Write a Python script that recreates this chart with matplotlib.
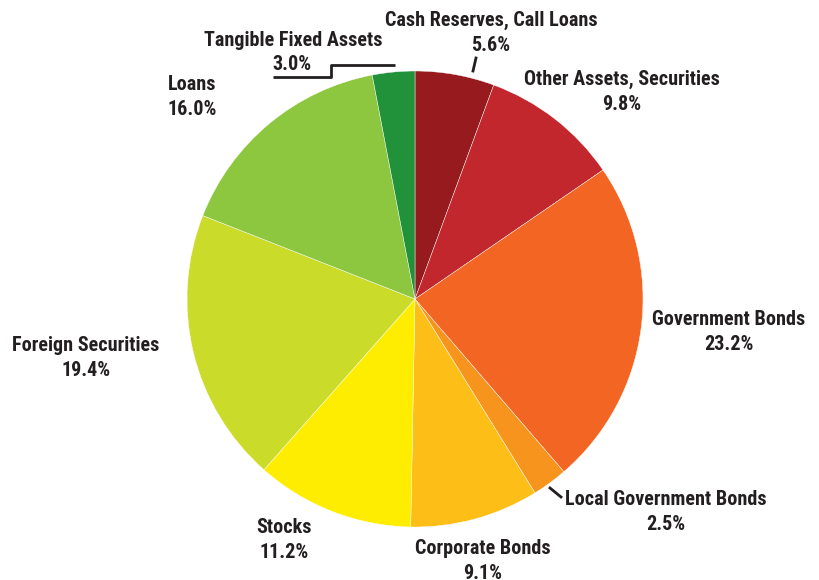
import matplotlib.pyplot as plt

# asset mix, clockwise from 12 o'clock
labels = ['Cash Reserves, Call Loans', 'Other Assets, Securities', 'Government Bonds',
          'Local Government Bonds', 'Corporate Bonds', 'Stocks', 'Foreign Securities',
          'Loans', 'Tangible Fixed Assets']
shares = [5.6, 9.8, 23.2, 2.5, 9.1, 11.2, 19.4, 16.0, 3.0]
colors = ['#961a1e', '#c1272d', '#f26522', '#f7941d', '#fdbe17', '#ffed00',
          '#cbdb2a', '#8dc63f', '#22923a']

family = ['Roboto Condensed', 'Archivo Narrow', 'Asap Condensed', 'DejaVu Sans']

W, H = 820, 580
fig = plt.figure(figsize=(W / 100, H / 100), dpi=100)
ax = fig.add_axes([0, 0, 1, 1])

cx, cy, r = 415, H - 299, 228
ax.pie(shares, colors=colors, startangle=90, counterclock=False,
       center=(cx, cy), radius=r, frame=True,
       wedgeprops={'linewidth': 0.3, 'edgecolor': 'white'})
ax.set_xlim(0, W)
ax.set_ylim(0, H)
ax.set_aspect('equal')
ax.axis('off')

# label centres in pixel coords (x, y from top)
spots = {
    'Cash Reserves, Call Loans': (491, 33),
    'Other Assets, Securities': (622, 92),
    'Government Bonds': (729, 332),
    'Local Government Bonds': (666, 512),
    'Corporate Bonds': (483, 561),
    'Stocks': (284, 540),
    'Foreign Securities': (86, 358),
    'Loans': (192, 97),
}
font = dict(family=family, fontweight=600, fontsize=14.5, color='#231f20')
for name, val in zip(labels, shares):
    if name in spots:
        x, y = spots[name]
        ax.text(x, H - y, f'{name}\n{val:.1f}%', ha='center', va='center',
                linespacing=1.4, **font)

# tangible fixed assets: title and value set apart, with stepped leader
ax.text(293, H - 40, 'Tangible Fixed Assets', ha='center', va='center', **font)
ax.text(272, H - 64, f'{shares[-1]:.1f}%', ha='left', va='center', **font)
ax.plot([273, 331, 331, 395], [H - 77, H - 77, H - 65, H - 65],
        color='#231f20', lw=2, solid_capstyle='butt')

# short leaders
ax.plot([473, 476], [H - 71, H - 58], color='#231f20', lw=2)
ax.plot([550, 561], [H - 488, H - 497], color='#231f20', lw=2)

fig.savefig('out.png', dpi=100, facecolor='white')
